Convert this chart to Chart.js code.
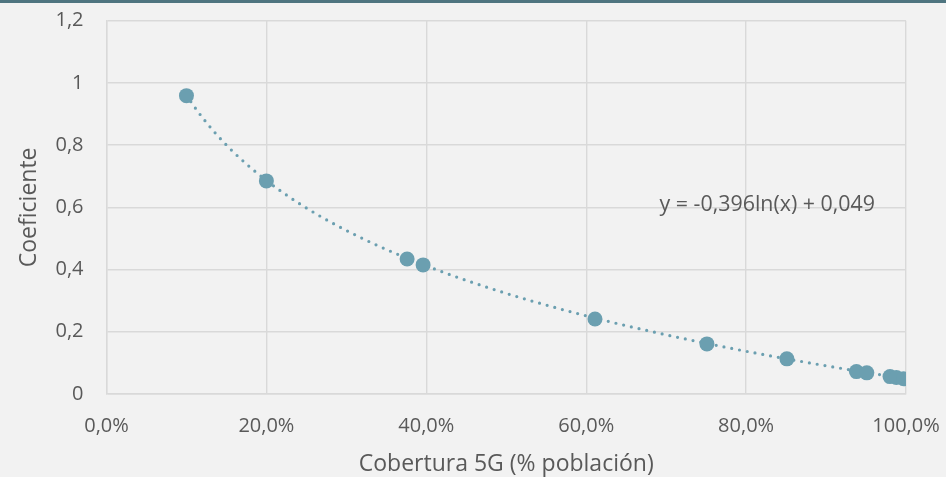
<!DOCTYPE html>
<html>
<head>
<meta charset="utf-8">
<script src="https://cdn.jsdelivr.net/npm/chart.js@4"></script>
<style>
  html, body { margin: 0; padding: 0; background: #F2F2F2; }
  #bar { height: 3px; background: #4F7580; }
  #wrap { width: 946px; height: 474px; }
</style>
</head>
<body>
<div id="bar"></div>
<div id="wrap"><canvas id="chartCoef" width="946" height="474"></canvas></div>
<script>
// coverage (fraction of population) and coefficient
const coverage = [0.10, 0.20, 0.376, 0.396, 0.611, 0.751, 0.851, 0.938, 0.951, 0.980, 0.988, 0.997];
const coefficient = [0.959, 0.685, 0.434, 0.415, 0.241, 0.161, 0.113, 0.072, 0.068, 0.056, 0.053, 0.049];

const xTicks = [0, 0.2, 0.4, 0.6, 0.8, 1.0];
const yTicks = [0, 0.2, 0.4, 0.6, 0.8, 1.0, 1.2];

// log trendline shown on chart: y = a*ln(x) + b
const trendA = -0.396;
const trendB = 0.049;
const trendLabel = 'y = -0,396ln(x) + 0,049';

const pointColor = '#6B9FB0';
const textColor = '#595959';
const gridColor = '#D9D9D9';
const fontFamily = "'Open Sans', 'Noto Sans', sans-serif";
const fontSize = 20;
const titleSize = 23;

document.addEventListener("DOMContentLoaded", function () {
    const canvas = document.getElementById("chartCoef");
    const ctx = canvas.getContext("2d");

    const points = coverage.map((x, i) => ({ x: x, y: coefficient[i] }));

    const trendPlugin = {
        id: 'trend',
        beforeDatasetsDraw(chart) {
            const xs = chart.scales.x, ys = chart.scales.y;
            const c = chart.ctx;
            const x0 = coverage[0], x1 = coverage[coverage.length - 1];
            c.save();
            c.beginPath();
            for (let i = 0; i <= 200; i++) {
                const xv = x0 + (x1 - x0) * i / 200;
                const px = xs.getPixelForValue(xv);
                const py = ys.getPixelForValue(trendA * Math.log(xv) + trendB);
                if (i === 0) c.moveTo(px, py); else c.lineTo(px, py);
            }
            c.strokeStyle = pointColor;
            c.lineWidth = 3.2;
            c.lineCap = 'round';
            c.setLineDash([0, 7.9]);
            c.stroke();
            c.restore();
        },
        afterDraw(chart) {
            const c = chart.ctx;
            const ys = chart.scales.y;
            c.save();
            c.font = "21.4px " + fontFamily;
            c.fillStyle = textColor;
            c.textBaseline = 'middle';
            c.fillText(trendLabel, chart.chartArea.left + 553, ys.getPixelForValue(0.6) - 2.5);
            c.restore();
        }
    };

    new Chart(ctx, {
        type: 'scatter',
        data: {
            datasets: [{
                data: points,
                backgroundColor: pointColor,
                borderWidth: 0,
                pointRadius: 7.5,
                pointHoverRadius: 7.5
            }]
        },
        options: {
            responsive: false,
            animation: false,
            layout: { padding: { top: 17.7, right: 40, left: 0, bottom: 0 } },
            plugins: {
                legend: { display: false },
                tooltip: { enabled: false }
            },
            scales: {
                x: {
                    type: 'linear',
                    min: 0,
                    max: 1,
                    afterBuildTicks: function (scale) {
                        scale.ticks = xTicks.map(v => ({ value: v }));
                    },
                    afterFit: function (scale) { scale.height = 83; },
                    grid: { color: gridColor, lineWidth: 1.4, drawTicks: true, tickLength: 17, tickColor: 'rgba(0,0,0,0)' },
                    border: { color: gridColor, width: 1.4 },
                    ticks: {
                        color: textColor,
                        padding: 3,
                        font: { family: fontFamily, size: fontSize },
                        callback: function (v) {
                            return (v * 100).toFixed(1).replace('.', ',') + '%';
                        }
                    },
                    title: {
                        display: true,
                        text: 'Cobertura 5G (% población)',
                        color: textColor,
                        font: { family: fontFamily, size: titleSize },
                        padding: { top: 0, bottom: -1.5 }
                    }
                },
                y: {
                    min: 0,
                    max: 1.2,
                    afterBuildTicks: function (scale) {
                        scale.ticks = yTicks.map(v => ({ value: v }));
                    },
                    afterFit: function (scale) { scale.width = 106.5; },
                    grid: { color: gridColor, lineWidth: 1.4, drawTicks: true, tickLength: 20, tickColor: 'rgba(0,0,0,0)' },
                    border: { color: gridColor, width: 1.4 },
                    ticks: {
                        color: textColor,
                        padding: 3,
                        font: { family: fontFamily, size: fontSize },
                        callback: function (v) {
                            return String(Math.round(v * 10) / 10).replace('.', ',');
                        }
                    },
                    title: {
                        display: true,
                        text: 'Coeficiente',
                        color: textColor,
                        font: { family: fontFamily, size: titleSize },
                        padding: { top: 16, bottom: 0 }
                    }
                }
            }
        },
        plugins: [trendPlugin]
    });
});
</script>
</body>
</html>
